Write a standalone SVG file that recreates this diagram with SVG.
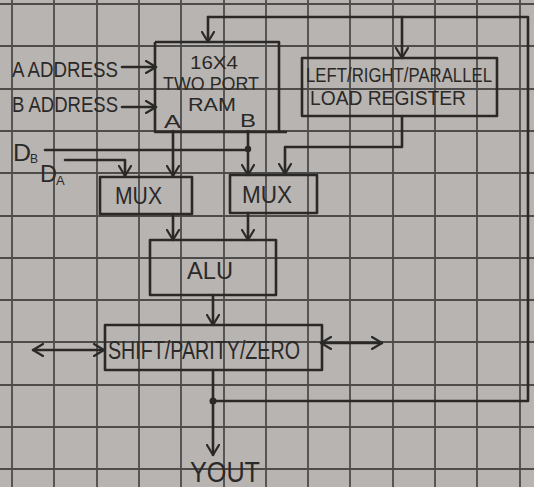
<svg xmlns="http://www.w3.org/2000/svg" width="534" height="487" viewBox="0 0 534 487">
<defs>
<style>
.grid{stroke:#4e4c4b;stroke-width:1.8;fill:none}
.box{fill:none;stroke:#2b2928;stroke-width:2.6;stroke-linejoin:round}
.wire{fill:none;stroke:#2b2928;stroke-width:2.6;stroke-linecap:round;stroke-linejoin:round}
.arr{marker-end:url(#ah)}
.bi{marker-end:url(#ah);marker-start:url(#ah)}
text{font-family:"Liberation Sans","DejaVu Sans",sans-serif;fill:#2b2928}
.dot{fill:#2b2928}
</style>
<marker id="ah" viewBox="0 0 12 14" refX="11" refY="7" markerWidth="12" markerHeight="14" markerUnits="userSpaceOnUse" orient="auto-start-reverse">
<path d="M1,1 L11,7 L1,13" fill="none" stroke="#2b2928" stroke-width="2.2" stroke-linecap="round" stroke-linejoin="round"/>
</marker>
</defs>
<rect width="534" height="487" fill="#b8b4b1"/>
<g id="grid">
<path class="grid" d="M12,0V487M54,0V487M97,0V487M139,0V487M181,0V487M224,0V487M266,0V487M308,0V487M350,0V487M393,0V487M435,0V487M477,0V487M520,0V487"/>
<path class="grid" d="M0,4H534M0,46H534M0,89H534M0,131H534M0,173H534M0,216H534M0,258H534M0,300H534M0,342H534M0,385H534M0,427H534M0,469H534"/>
</g>
<g id="connectors">
<path class="wire" d="M213,401 H528 V17 H208"/>
<path class="wire arr" d="M208,17 V42"/>
<path class="wire arr" d="M402,17 V58"/>
<path class="wire arr" d="M122,67 H156"/>
<path class="wire arr" d="M122,107 H156"/>
<path class="wire arr" d="M173,131 V176"/>
<path class="wire arr" d="M248,131 V175"/>
<path class="wire" d="M45,150 H248"/>
<path class="wire arr" d="M65,160 H125 V176"/>
<path class="wire arr" d="M402,117 V147 H285 V174"/>
<path class="wire arr" d="M173,214 V240"/>
<path class="wire arr" d="M248,213 V240"/>
<path class="wire arr" d="M213,295 V325"/>
<path class="wire bi" d="M33,350 H104"/>
<path class="wire bi" d="M321,343 H382"/>
<path class="wire arr" d="M213,370 V455"/>
<circle class="dot" cx="248" cy="149" r="3.2"/>
<circle class="dot" cx="213" cy="401" r="3.5"/>
</g>
<g id="a-address"><text x="12" y="77" font-size="22" textLength="106" lengthAdjust="spacingAndGlyphs">A ADDRESS</text></g>
<g id="b-address"><text x="12" y="112" font-size="22" textLength="106" lengthAdjust="spacingAndGlyphs">B ADDRESS</text></g>
<g id="ram">
<path class="box" d="M155,42 H279 V131 M287,132 H155 V42"/>
<text x="190" y="69" font-size="19" textLength="48" lengthAdjust="spacingAndGlyphs">16X4</text>
<text x="163" y="90" font-size="19" textLength="96" lengthAdjust="spacingAndGlyphs">TWO PORT</text>
<text x="188" y="111" font-size="19" textLength="48" lengthAdjust="spacingAndGlyphs">RAM</text>
<text x="164" y="128" font-size="19" textLength="17" lengthAdjust="spacingAndGlyphs">A</text>
<text x="240" y="127" font-size="19" textLength="16" lengthAdjust="spacingAndGlyphs">B</text>
</g>
<g id="register">
<rect class="box" x="302" y="58" width="195" height="58"/>
<text x="306" y="82" font-size="20" textLength="186" lengthAdjust="spacingAndGlyphs">LEFT/RIGHT/PARALLEL</text>
<text x="310" y="105" font-size="20" textLength="156" lengthAdjust="spacingAndGlyphs">LOAD REGISTER</text>
</g>
<g id="db"><text x="13" y="161" font-size="23" textLength="18" lengthAdjust="spacingAndGlyphs">D</text><text x="30" y="163" font-size="12">B</text></g>
<g id="da"><text x="40" y="182" font-size="23" textLength="17" lengthAdjust="spacingAndGlyphs">D</text><text x="56" y="185" font-size="13">A</text></g>
<g id="mux-a">
<rect class="box" x="100" y="177" width="92" height="37"/>
<text x="115" y="204" font-size="24" textLength="47" lengthAdjust="spacingAndGlyphs">MUX</text>
</g>
<g id="mux-b">
<rect class="box" x="230" y="175" width="87" height="38"/>
<text x="242" y="203" font-size="24" textLength="50" lengthAdjust="spacingAndGlyphs">MUX</text>
</g>
<g id="alu">
<rect class="box" x="150" y="240" width="126" height="55"/>
<text x="187" y="279" font-size="24" textLength="46" lengthAdjust="spacingAndGlyphs">ALU</text>
</g>
<g id="shifter">
<rect class="box" x="105" y="325" width="217" height="45"/>
<text x="108" y="359" font-size="25" textLength="192" lengthAdjust="spacingAndGlyphs">SHIFT/PARITY/ZERO</text>
</g>
<g id="yout"><text x="190" y="482" font-size="29" textLength="70" lengthAdjust="spacingAndGlyphs">YOUT</text></g>
</svg>
